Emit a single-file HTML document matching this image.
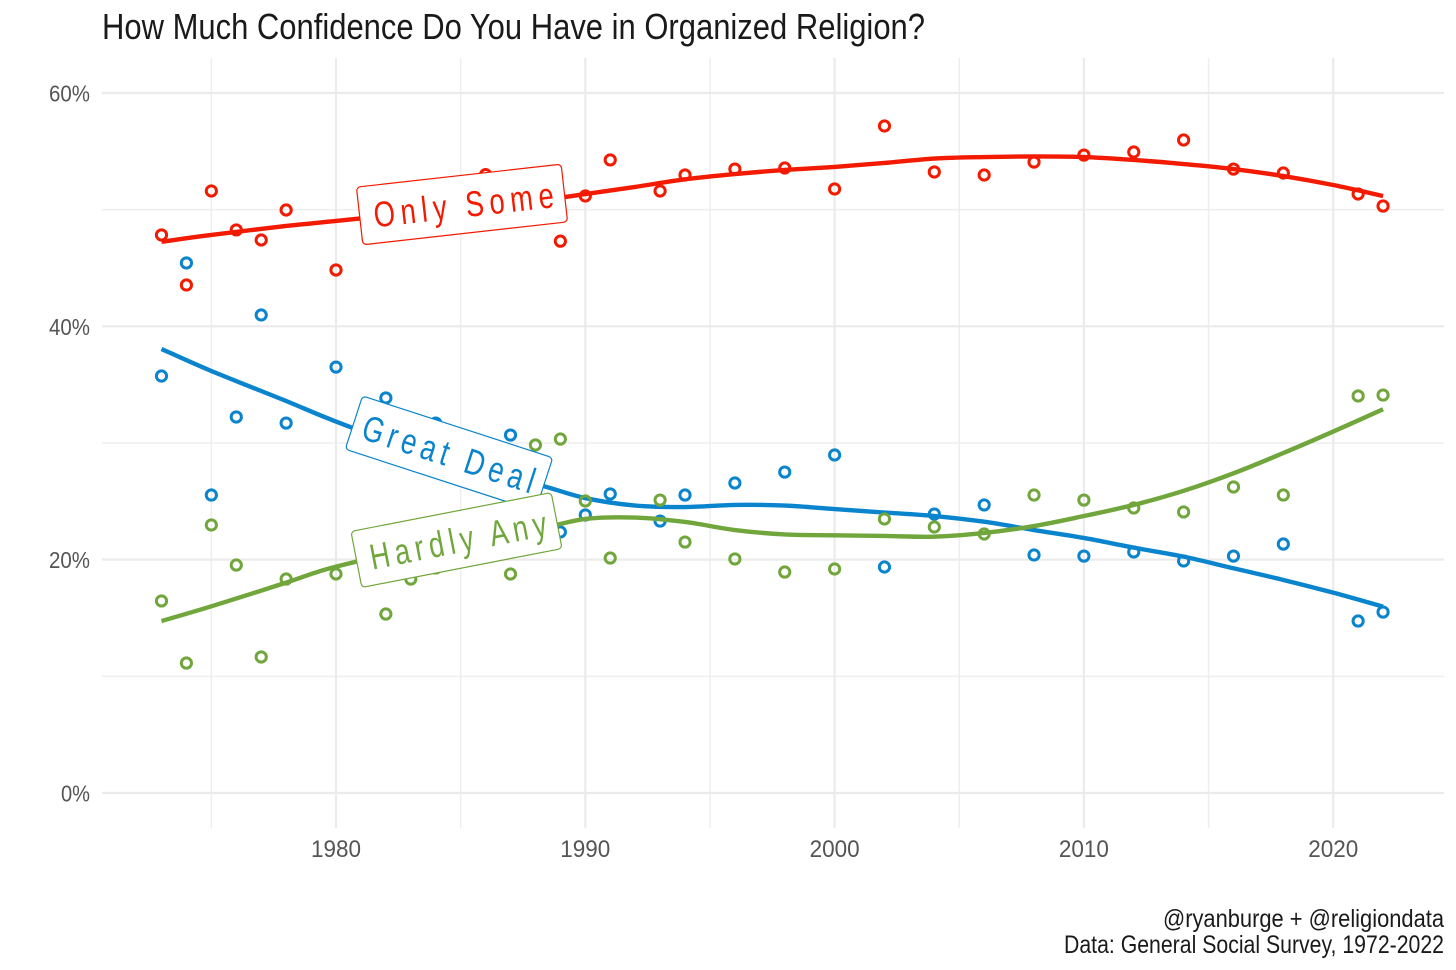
<!DOCTYPE html>
<html lang="en">
<head>
<meta charset="utf-8">
<title>How Much Confidence Do You Have in Organized Religion?</title>
<style>
html,body{margin:0;padding:0;background:#fff;width:1456px;height:970px;overflow:hidden}
svg{display:block;position:absolute;left:0;top:0}
text{font-family:"Liberation Sans",sans-serif}
</style>
</head>
<body>
<svg id="chart" width="1456" height="970" viewBox="0 0 1456 970" xmlns="http://www.w3.org/2000/svg">
  <rect width="1456" height="970" fill="#fff"/>
  <text x="102" y="39" font-size="36" fill="#1a1a1a" textLength="823" lengthAdjust="spacingAndGlyphs">How Much Confidence Do You Have in Organized Religion?</text>
  <g id="grid"></g>
  <g id="axes"></g>
  <g id="series"></g>

  <g transform="translate(462 204.5) rotate(-6.4)">
    <rect x="-103" y="-29" width="206" height="58" rx="4" fill="#fff" stroke="#f21a00" stroke-width="1.2"/>
    <text transform="scale(.76,1)" x="2" y="13" font-size="36" fill="#f21a00" text-anchor="middle" textLength="238" lengthAdjust="spacing">Only Some</text>
  </g>
  <g transform="translate(449 453.5) rotate(18)">
    <rect x="-100" y="-28" width="200" height="56" rx="4" fill="#fff" stroke="#0a84cc" stroke-width="1.2"/>
    <text transform="scale(.76,1)" x="0" y="13" font-size="36" fill="#0a84cc" text-anchor="middle" textLength="236" lengthAdjust="spacing">Great Deal</text>
  </g>
  <g transform="translate(456.5 540) rotate(-11)">
    <rect x="-102" y="-28.5" width="204" height="57" rx="4" fill="#fff" stroke="#71a63c" stroke-width="1.2"/>
    <text transform="scale(.76,1)" x="2" y="13" font-size="36" fill="#71a63c" text-anchor="middle" textLength="236" lengthAdjust="spacing">Hardly Any</text>
  </g>

  <text x="1444" y="927" font-size="25" fill="#1a1a1a" text-anchor="end" textLength="281" lengthAdjust="spacingAndGlyphs">@ryanburge + @religiondata</text>
  <text x="1444" y="953" font-size="25" fill="#1a1a1a" text-anchor="end" textLength="380" lengthAdjust="spacingAndGlyphs">Data: General Social Survey, 1972-2022</text>
</svg>
<script>
const pointYears = [1973,1974,1975,1976,1977,1978,1980,1982,1983,1984,1986,1987,1988,1989,1990,1991,1993,1994,1996,1998,2000,2002,2004,2006,2008,2010,2012,2014,2016,2018,2021,2022];
const onlySomePoints = [47.83,43.54,51.6,48.26,47.4,49.97,44.83,50,49,50,53,51,50.5,47.3,51.17,54.26,51.6,52.97,53.48,53.57,51.77,57.17,53.23,52.97,54.08,54.68,54.94,55.97,53.48,53.14,51.34,50.31];
const greatDealPoints = [35.74,45.43,25.54,32.23,40.97,31.71,36.51,33.86,30,31.71,28,30.68,27,22.37,23.83,25.63,23.31,25.54,26.57,27.51,28.97,19.37,23.91,24.69,20.4,20.31,20.66,19.89,20.31,21.34,14.74,15.51];
const hardlyAnyPoints = [16.46,11.14,22.97,19.54,11.66,18.34,18.77,15.34,18.34,19.29,20.5,18.77,29.83,30.34,25.03,20.14,25.11,21.51,20.06,18.94,19.2,23.49,22.8,22.2,25.54,25.11,24.43,24.09,26.23,25.54,34.03,34.11];
const trendYears = [1973,1975,1978,1980,1984,1988,1990,1992,1994,1996,1998,2000,2002,2004,2006,2008,2010,2012,2014,2016,2018,2020,2022];
const onlySomeTrend = [47.25,47.83,48.6,49.03,49.9,50.74,51.34,51.95,52.6,53.05,53.4,53.66,54.0,54.38,54.51,54.56,54.51,54.26,53.91,53.48,52.88,52.11,51.17];
const greatDealTrend = [38.06,36.17,33.6,31.84,28.7,26.5,25.28,24.64,24.51,24.69,24.64,24.34,24.04,23.74,23.25,22.54,21.86,21.03,20.26,19.26,18.26,17.17,15.97];
const hardlyAnyTrend = [14.74,16.0,18.03,19.4,21.3,22.6,23.49,23.61,23.23,22.54,22.16,22.09,22.03,21.97,22.29,22.88,23.74,24.69,25.9,27.4,29.14,30.98,32.89];
const yMajorTicks = [0,20,40,60];
const yMinorTicks = [10,30,50];
const xMajorTicks = [1980,1990,2000,2010,2020];
const xMinorTicks = [1975,1985,1995,2005,2015];

const NS = 'http://www.w3.org/2000/svg';
function x(year){ return 336 + (year - 1980) * 24.93; }
function y(pct){ return 793 - pct * 11.667; }
function make(tag, attrs, parent){
  const el = document.createElementNS(NS, tag);
  for (const k in attrs) el.setAttribute(k, attrs[k]);
  parent.appendChild(el);
  return el;
}
function smoothPath(xs, ys){
  const pts = xs.map((v, i) => [x(v), y(ys[i])]);
  let d = 'M' + pts[0][0].toFixed(2) + ' ' + pts[0][1].toFixed(2);
  for (let i = 0; i < pts.length - 1; i++){
    const p0 = pts[Math.max(i - 1, 0)], p1 = pts[i], p2 = pts[i + 1], p3 = pts[Math.min(i + 2, pts.length - 1)];
    const c1x = p1[0] + (p2[0] - p0[0]) / 6, c1y = p1[1] + (p2[1] - p0[1]) / 6;
    const c2x = p2[0] - (p3[0] - p1[0]) / 6, c2y = p2[1] - (p3[1] - p1[1]) / 6;
    d += 'C' + c1x.toFixed(2) + ' ' + c1y.toFixed(2) + ' ' + c2x.toFixed(2) + ' ' + c2y.toFixed(2) + ' ' + p2[0].toFixed(2) + ' ' + p2[1].toFixed(2);
  }
  return d;
}

const grid = document.getElementById('grid');
const axes = document.getElementById('axes');
const GRID_TOP = 58, GRID_BOTTOM = 828, GRID_LEFT = 102, GRID_RIGHT = 1444;

yMinorTicks.forEach(t => {
  const el = make('line', {x1: GRID_LEFT, x2: GRID_RIGHT, y1: y(t), y2: y(t), stroke: '#eeeeee', 'stroke-width': 1.5}, grid);
  
  
});
xMinorTicks.forEach(t => {
  const el = make('line', {x1: x(t), x2: x(t), y1: GRID_TOP, y2: GRID_BOTTOM, stroke: '#eeeeee', 'stroke-width': 1.5}, grid);
  
  
});
yMajorTicks.forEach(t => {
  const el = make('line', {x1: GRID_LEFT, x2: GRID_RIGHT, y1: y(t), y2: y(t), stroke: '#ebebeb', 'stroke-width': 2.2}, grid);
  
  
  const lab = make('text', {x: 90, y: y(t) + 8.5, 'font-size': 23, fill: '#555555', 'text-anchor': 'end', textLength: t === 0 ? 29 : 41, lengthAdjust: 'spacingAndGlyphs'}, axes);
  
  
  lab.textContent = t + '%';
});
xMajorTicks.forEach(t => {
  const el = make('line', {x1: x(t), x2: x(t), y1: GRID_TOP, y2: GRID_BOTTOM, stroke: '#ebebeb', 'stroke-width': 2.2}, grid);
  
  
  const lab = make('text', {x: x(t), y: 857, 'font-size': 24, fill: '#555555', 'text-anchor': 'middle', textLength: 50, lengthAdjust: 'spacingAndGlyphs'}, axes);
  
  
  lab.textContent = t;
});

const seriesRoot = document.getElementById('series');
function drawSeries(slug, color, points, trend){
  const g = make('g', {}, seriesRoot);
  
  
  pointYears.forEach((yr, i) => {
    const c = make('circle', {cx: x(yr), cy: y(points[i]), r: 5.1, fill: 'none', stroke: color, 'stroke-width': 3}, g);
    
    
  });
  const p = make('path', {d: smoothPath(trendYears, trend), fill: 'none', stroke: color, 'stroke-width': 4.4}, g);
  
  
}
drawSeries('great-deal', '#0a84cc', greatDealPoints, greatDealTrend);
drawSeries('hardly-any', '#71a63c', hardlyAnyPoints, hardlyAnyTrend);
drawSeries('only-some', '#f21a00', onlySomePoints, onlySomeTrend);
</script>
</body>
</html>
